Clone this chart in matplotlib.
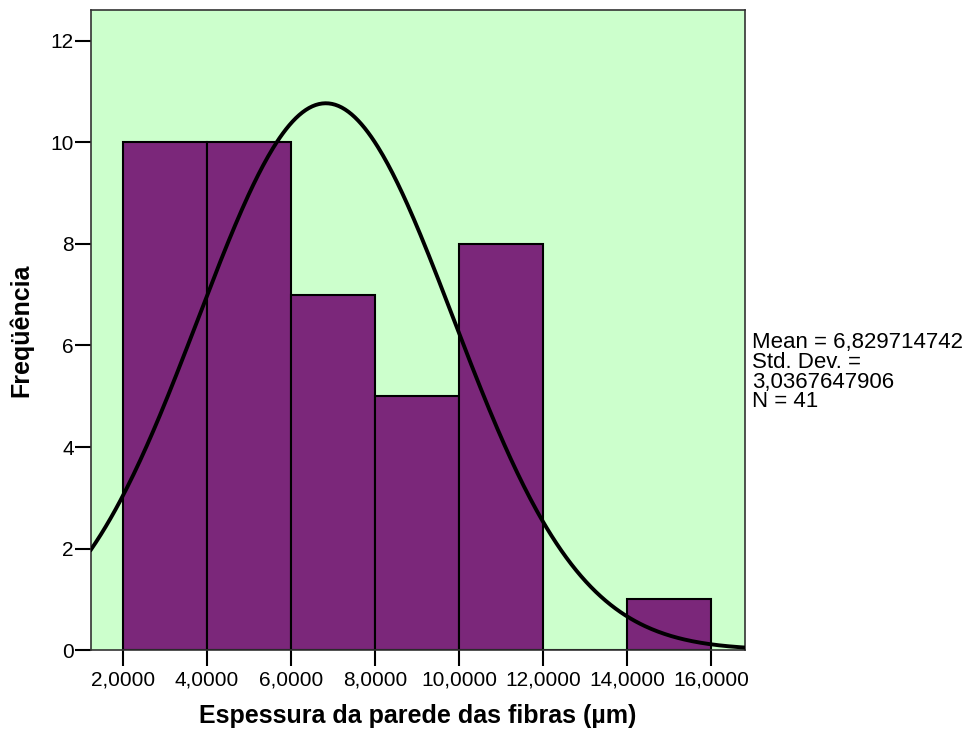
import numpy as np
import matplotlib.pyplot as plt

plt.rcParams['font.family'] = ['Liberation Sans', 'DejaVu Sans']

# histograma: limites das classes e frequencias
bin_left = [2, 4, 6, 8, 10, 12, 14]
freq = [10, 10, 7, 5, 8, 0, 1]
bin_width = 2
mean = 6.829714742
std = 3.0367647906
n = 41

xticks = [2, 4, 6, 8, 10, 12, 14, 16]
xtick_labels = ["2,0000", "4,0000", "6,0000", "8,0000", "10,0000", "12,0000", "14,0000", "16,0000"]
yticks = [0, 2, 4, 6, 8, 10, 12]

fig = plt.figure(figsize=(9.69, 7.35), dpi=100)
ax = fig.add_axes([0.0939, 0.1156, 0.675, 0.8708])
ax.set_facecolor('#CCFFCC')

ax.bar(bin_left, freq, width=bin_width, align='edge', color='#7B277A',
       edgecolor='black', linewidth=1.5, zorder=2)

# curva normal
x = np.linspace(1.24, 16.81, 400)
y = n * bin_width * np.exp(-0.5 * ((x - mean) / std) ** 2) / (std * np.sqrt(2 * np.pi))
ax.plot(x, y, color='black', linewidth=2.8, zorder=3)

ax.set_xlim(1.24, 16.81)
ax.set_ylim(0, 12.61)
ax.set_xticks(xticks)
ax.set_xticklabels(xtick_labels)
ax.set_yticks(yticks)
ax.tick_params(axis='both', direction='out', length=11.5, width=1.5, labelsize=15, colors='black')
ax.tick_params(axis='x', pad=3)
ax.tick_params(axis='y', pad=1)
for s in ax.spines.values():
    s.set_color('#333333')
    s.set_linewidth(1.2)

ax.set_xlabel("Espessura da parede das fibras (µm)", fontsize=18, fontweight='bold', labelpad=11)
ax.set_ylabel("Freqüência", fontsize=18, fontweight='bold', labelpad=12)

fig.text(0.776, 0.548, "Mean = 6,829714742\nStd. Dev. =\n3,0367647906\nN = 41",
         fontsize=16, va='top', ha='left', linespacing=0.92)

plt.savefig("out.png", dpi=100)
